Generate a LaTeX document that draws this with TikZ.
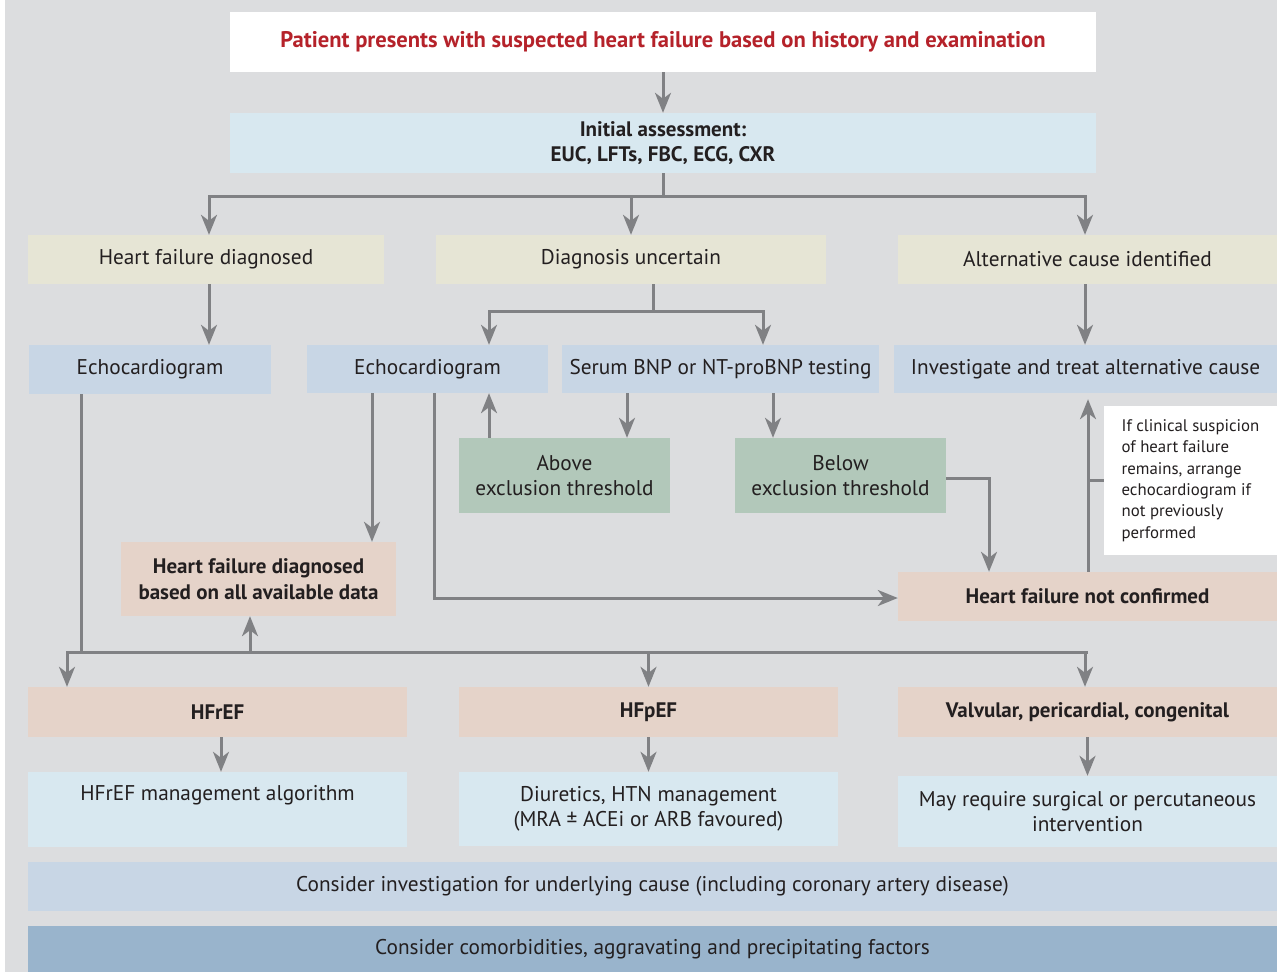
\documentclass[tikz,border=0pt]{standalone}
\usepackage{fontspec}
\setmainfont{PT Sans}
\usetikzlibrary{arrows.meta,calc}
\definecolor{bgc}{HTML}{DCDDDF}
\definecolor{initc}{HTML}{D8E8F0}
\definecolor{beige}{HTML}{E6E5D5}
\definecolor{bgrey}{HTML}{C8D6E5}
\definecolor{greenc}{HTML}{B2C8BA}
\definecolor{pinkc}{HTML}{E5D3C9}
\definecolor{dblue}{HTML}{99B4CC}
\definecolor{redt}{HTML}{B5222A}
\definecolor{txt}{HTML}{231F20}
\definecolor{lnc}{HTML}{808184}
\tikzset{
  box/.style={inner sep=0pt, align=center, text=txt, font=\fontsize{21.3}{25}\selectfont},
  bbox/.style={box, font=\fontsize{21}{25.5}\selectfont\bfseries},
  ln/.style={draw=lnc, line width=3pt},
  arr/.style={ln, -{Stealth[length=20pt,width=16pt,inset=6pt]}},
}
\begin{document}
\begin{tikzpicture}[x=1pt,y=-1pt]
\useasboundingbox (0,0) rectangle (1277,972);
\fill[white] (0,0) rectangle (1277,972);
\fill[bgc] (5,0) rectangle (1277,972);

\node[bbox, fill=white, minimum width=866pt, minimum height=60pt, text=redt, font=\fontsize{22.6}{26}\selectfont\bfseries] (top) at (663,42) {Patient presents with suspected heart failure based on history and examination};
\node[bbox, fill=initc, minimum width=866pt, minimum height=60pt] (init) at (663,143) {Initial assessment:\\EUC, LFTs, FBC, ECG, CXR};

\node[box, fill=beige, minimum width=356pt, minimum height=49pt] (hfd) at (206,259.5) {Heart failure diagnosed};
\node[box, fill=beige, minimum width=390pt, minimum height=49pt] (unc) at (631,259.5) {Diagnosis uncertain};
\node[box, fill=beige, minimum width=379pt, minimum height=49pt] (alt) at (1087.5,259.5) {Alternative cause identified};

\node[box, fill=bgrey, minimum width=242pt, minimum height=49pt] (echoL) at (150,369.5) {Echocardiogram};
\node[box, fill=bgrey, minimum width=241pt, minimum height=48pt] (echoM) at (427.5,369) {Echocardiogram};
\node[box, fill=bgrey, minimum width=317pt, minimum height=48pt] (bnp) at (720.5,369) {Serum BNP or NT-proBNP testing};
\node[box, fill=bgrey, minimum width=383pt, minimum height=48pt] (inv) at (1085.5,369) {Investigate and treat alternative cause};

\node[box, fill=greenc, minimum width=211pt, minimum height=75pt] (above) at (564.5,475.5) {Above\\exclusion threshold};
\node[box, fill=greenc, minimum width=211pt, minimum height=75pt] (below) at (840.5,475.5) {Below\\exclusion threshold};

\node[box, fill=white, minimum width=173pt, minimum height=149pt, align=left, font=\fontsize{16.8}{21.4}\selectfont] (note) at (1190.5,480.5) {If clinical suspicion\\of heart failure\\remains, arrange\\echocardiogram if\\not previously\\performed};

\node[bbox, fill=pinkc, minimum width=275pt, minimum height=74pt] (hfall) at (258.5,579) {Heart failure diagnosed\\based on all available data};
\node[bbox, fill=pinkc, minimum width=379pt, minimum height=49pt] (notc) at (1087.5,596.5) {Heart failure not confirmed};

\node[bbox, fill=pinkc, minimum width=379pt, minimum height=50pt] (hfref) at (217.5,712) {HFrEF};
\node[bbox, fill=pinkc, minimum width=379pt, minimum height=50pt] (hfpef) at (648.5,712) {HFpEF};
\node[bbox, fill=pinkc, minimum width=379pt, minimum height=50pt] (valv) at (1087.5,712) {Valvular, pericardial, congenital};

\node[box, fill=initc, minimum width=379pt, minimum height=75pt] (mgmt) at (217.5,809.5) {HFrEF management algorithm\\\strut};
\node[box, fill=initc, minimum width=379pt, minimum height=74pt] (diur) at (648.5,809) {Diuretics, HTN management\\(MRA ± ACEi or ARB favoured)};
\node[box, fill=initc, minimum width=379pt, minimum height=71pt] (surg) at (1087.5,811.5) {May require surgical or percutaneous\\intervention};

\node[box, fill=bgrey, minimum width=1249pt, minimum height=49pt] (cinv) at (652.5,886.5) {Consider investigation for underlying cause (including coronary artery disease)};
\node[box, fill=dblue, minimum width=1249pt, minimum height=46pt] (ccom) at (652.5,949) {Consider comorbidities, aggravating and precipitating factors};

% connectors
\draw[arr] (top) -- (init);
\draw[ln] (init.south) -- ++(0,23) coordinate (b1);
\draw[arr] (b1) -| ([xshift=3pt]hfd.north);
\draw[arr] (b1) -| (unc.north);
\draw[arr] (b1) -| ([xshift=-2.5pt]alt.north);

\draw[arr] ([xshift=3pt]hfd.south) -- ([xshift=3pt]hfd.south |- echoL.north);
\draw[arr] ([xshift=-2.5pt]alt.south) -- ([xshift=-2.5pt]alt.south |- inv.north);

\draw[ln] ([xshift=22pt]unc.south) -- ++(0,27) coordinate (u1);
\draw[arr] (u1) -| ([xshift=61.5pt]echoM.north);
\draw[arr] (u1) -| ([xshift=42.5pt]bnp.north);

\coordinate (bA) at ([xshift=-93.5pt]bnp.south);
\draw[arr] (bA) -- (bA |- above.north);
\coordinate (bB) at ([xshift=52.5pt]bnp.south);
\draw[arr] (bB) -- (bB |- below.north);
\coordinate (aU) at ([xshift=-75.5pt]above.north);
\draw[arr] (aU) -- (aU |- echoM.south);

\coordinate (eM1) at ([xshift=-55.5pt]echoM.south);
\draw[arr] (eM1) -- (eM1 |- hfall.north);
\coordinate (eM2) at ([xshift=6.5pt]echoM.south);
\draw[arr] (eM2) |- ([yshift=-1.5pt]notc.west);

\coordinate (nT) at ([xshift=-98.5pt]notc.north);
\draw[arr] ([yshift=-2.5pt]below.east) -| (nT);

\coordinate (nU) at ([xshift=0.5pt]notc.north);
\draw[arr] (nU) -- ([yshift=-6pt]nU |- inv.south);
\draw[ln] (note.west) -- (note.west -| nU);

\coordinate (eL) at ([xshift=-69pt]echoL.south);
\draw[ln] (eL) -- ++(0,258) coordinate (h0);
\coordinate (hR) at ([xshift=-150.5pt]hfref.north);
\draw[ln] (h0) -- (h0 -| valv.north);
\draw[arr] (h0) -| (hR);
\draw[arr] (h0) -| ([xshift=-2.5pt]valv.north);
\draw[arr] (h0 -| hfpef.north) -- (hfpef.north);
\coordinate (hA) at ([xshift=-8.5pt]hfall.south);
\draw[arr] (hA |- h0) -- (hA);

\draw[arr] ([xshift=3.5pt]hfref.south) -- ([xshift=3.5pt]hfref.south |- mgmt.north);
\draw[arr] (hfpef.south) -- (diur.north);
\draw[arr] (valv.south) -- (surg.north);
\end{tikzpicture}
\end{document}
